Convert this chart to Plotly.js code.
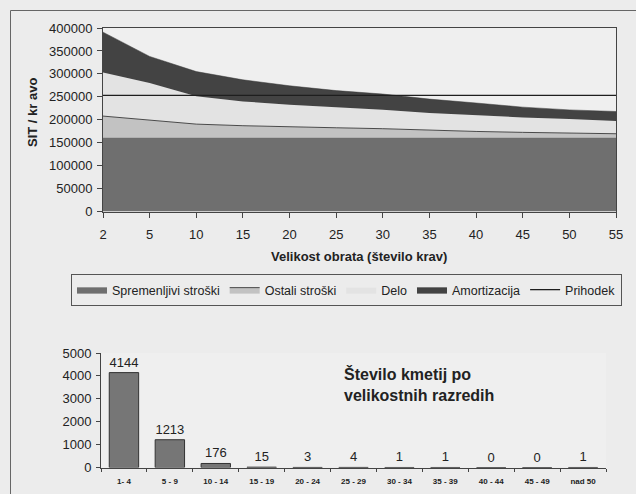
<!DOCTYPE html>
<html>
<head>
<meta charset="utf-8">
<script src="https://cdn.plot.ly/plotly-3.0.1.min.js"></script>
<style>
html,body{margin:0;padding:0;background:#ececec;}
#chart{width:636px;height:494px;}
</style>
</head>
<body>
<div id="chart"></div>
<script>
// ---- Data (top chart: SIT per cow by herd size) ----
const herdSizes = ['2','5','10','15','20','25','30','35','40','45','50','55'];
const spremenljivi = [160000,160000,160000,160000,160000,160000,160000,160000,160000,160000,160000,160000];
const ostali = [48000,38500,30500,27000,25500,22500,20500,17000,14500,12500,11000,9500];
const delo = [95000,81500,60500,53000,47000,45000,41500,37500,35000,32500,30500,28000];
const amortizacija = [88000,58000,54000,47000,41500,36000,34000,30500,27000,22500,20000,20500];
const prihodek = [253000,253000,253000,253000,253000,253000,253000,253000,253000,253000,253000,253000];

// ---- Data (bottom chart: number of farms by size class) ----
const sizeClasses = ['1- 4','5 - 9','10 - 14','15 - 19','20 - 24','25 - 29','30 - 34','35 - 39','40 - 44','45 - 49','nad 50'];
const farmCounts = [4144,1213,176,15,3,4,1,1,0,0,1];

const FONT = 'Liberation Sans, Arial, sans-serif';
const W = 636, H = 494;
const px = v => v / W;
const py = v => 1 - v / H;

const traces = [
  {x: herdSizes, y: spremenljivi, name: 'Spremenljivi stroški', type: 'scatter', mode: 'lines',
   stackgroup: 'one', fillcolor: '#6f6f6f', line: {color: '#686868', width: 0.5}, xaxis: 'x', yaxis: 'y'},
  {x: herdSizes, y: ostali, name: 'Ostali stroški', type: 'scatter', mode: 'lines',
   stackgroup: 'one', fillcolor: '#c2c2c2', line: {color: '#4a4a4a', width: 1}, xaxis: 'x', yaxis: 'y'},
  {x: herdSizes, y: delo, name: 'Delo', type: 'scatter', mode: 'lines',
   stackgroup: 'one', fillcolor: '#e3e3e3', line: {color: '#e3e3e3', width: 0}, xaxis: 'x', yaxis: 'y'},
  {x: herdSizes, y: amortizacija, name: 'Amortizacija', type: 'scatter', mode: 'lines',
   stackgroup: 'one', fillcolor: '#434343', line: {color: '#3a3a3a', width: 0.5}, xaxis: 'x', yaxis: 'y'},
  {x: herdSizes, y: prihodek, name: 'Prihodek', type: 'scatter', mode: 'lines',
   line: {color: '#1e1e1e', width: 1.3}, xaxis: 'x', yaxis: 'y'},
  {x: sizeClasses, y: farmCounts, type: 'bar', name: 'Število kmetij', showlegend: false,
   text: farmCounts.map(String), textposition: 'outside', cliponaxis: false,
   textfont: {family: FONT, size: 13, color: '#222'},
   marker: {color: '#767676', line: {color: '#333', width: 1}}, xaxis: 'x2', yaxis: 'y2'}
];

const layout = {
  width: W, height: H,
  margin: {l: 0, r: 0, t: 0, b: 0, pad: 0},
  paper_bgcolor: '#ececec',
  plot_bgcolor: '#efefef',
  font: {family: FONT, size: 13, color: '#222'},
  showlegend: true,
  legend: {
    orientation: 'h', x: px(71), y: py(274), xanchor: 'left', yanchor: 'top',
    bgcolor: 'rgba(0,0,0,0)', bordercolor: '#555', borderwidth: 1,
    font: {family: FONT, size: 12.5, color: '#222'},
    itemwidth: 30, tracegroupgap: 0, traceorder: 'normal'
  },
  bargap: 0.36,
  xaxis: {
    domain: [px(103), px(616)], anchor: 'y', type: 'category', range: [0, 11],
    showline: true, linecolor: '#444', linewidth: 1, mirror: true,
    ticks: 'outside', ticklen: 5, tickcolor: '#444', showgrid: false, zeroline: false,
    tickfont: {family: FONT, size: 13, color: '#222'}, ticklabelstandoff: 6
  },
  yaxis: {
    domain: [py(211.5), py(28)], anchor: 'x', range: [0, 400000], dtick: 50000,
    showline: true, linecolor: '#444', linewidth: 1, mirror: true,
    ticks: 'outside', ticklen: 5, tickcolor: '#444', showgrid: false, zeroline: false,
    tickfont: {family: FONT, size: 13, color: '#222'}, ticklabelstandoff: 2,
    tickformat: 'd', separatethousands: false
  },
  xaxis2: {
    domain: [px(101), px(606)], anchor: 'y2', type: 'category', range: [-0.5, 10.5],
    showline: true, linecolor: '#444', linewidth: 1,
    ticks: 'outside', tickson: 'boundaries', ticklen: 3, tickcolor: '#444', showgrid: false,
    tickfont: {family: FONT, size: 8, color: '#222', weight: 'bold'}, ticklabelstandoff: 6
  },
  yaxis2: {
    domain: [py(467.5), py(353)], anchor: 'x2', range: [0, 5000], dtick: 1000,
    showline: true, linecolor: '#444', linewidth: 1,
    ticks: 'outside', ticklen: 4, tickcolor: '#444', showgrid: false, zeroline: false,
    tickfont: {family: FONT, size: 13, color: '#222'}, ticklabelstandoff: 2, tickformat: 'd'
  },
  annotations: [
    {text: 'SIT / kr avo', xref: 'paper', yref: 'paper', x: px(32), y: py(113),
     xanchor: 'center', yanchor: 'middle', textangle: -90, showarrow: false,
     font: {family: FONT, size: 13, color: '#222', weight: 'bold'}},
    {text: 'Velikost obrata (število krav)', xref: 'paper', yref: 'paper', x: px(359), y: py(256),
     xanchor: 'center', yanchor: 'middle', showarrow: false,
     font: {family: FONT, size: 13, color: '#222', weight: 'bold'}},
    {text: 'Število kmetij po<br>velikostnih razredih', xref: 'paper', yref: 'paper', x: px(342), y: py(384),
     xanchor: 'left', yanchor: 'middle', align: 'left', showarrow: false,
     font: {family: FONT, size: 16, color: '#222', weight: 'bold'}}
  ],
  shapes: [
    {type: 'rect', xref: 'paper', yref: 'paper', x0: px(10.5), x1: 1.05, y0: -0.05, y1: py(10.5),
     line: {color: '#666', width: 1}, fillcolor: 'rgba(0,0,0,0)', layer: 'below'}
  ]
};

Plotly.newPlot('chart', traces, layout, {displayModeBar: false, staticPlot: true});
</script>
</body>
</html>
